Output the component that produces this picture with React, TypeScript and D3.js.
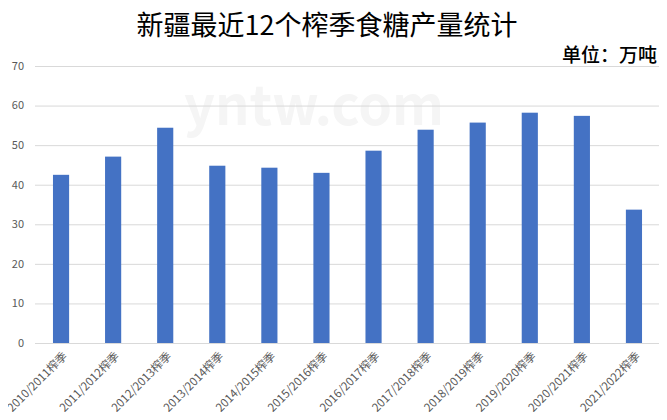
import React, { useEffect, useRef } from 'react';
import * as d3 from 'd3';

const seasons = [
  '2010/2011榨季', '2011/2012榨季', '2012/2013榨季', '2013/2014榨季',
  '2014/2015榨季', '2015/2016榨季', '2016/2017榨季', '2017/2018榨季',
  '2018/2019榨季', '2019/2020榨季', '2020/2021榨季', '2021/2022榨季'
];
const output = [42.5, 47.1, 54.4, 44.8, 44.3, 43.0, 48.6, 53.9, 55.7, 58.2, 57.4, 33.7];
const yTicks = [0, 10, 20, 30, 40, 50, 60, 70];

const title = '新疆最近12个榨季食糖产量统计';
const unit = '单位：万吨';

const width = 667;
const height = 420;
const margin = { top: 66, right: 7, bottom: 77, left: 35 };
const font = '"Noto Sans CJK SC", "Noto Sans", sans-serif';

const App: React.FC = () => {
  const svgRef = useRef<SVGSVGElement>(null);

  useEffect(() => {
    const svg = d3.select(svgRef.current);
    svg.selectAll('*').remove();

    const innerWidth = width - margin.left - margin.right;
    const innerHeight = height - margin.top - margin.bottom;

    const x = d3.scaleBand()
      .domain(seasons)
      .range([0, innerWidth])
      .paddingInner(0.69)
      .paddingOuter(0.345);

    const y = d3.scaleLinear()
      .domain([0, 70])
      .range([innerHeight, 0]);

    // watermark
    svg.append('text')
      .attr('x', 314)
      .attr('y', 125)
      .attr('text-anchor', 'middle')
      .style('font-family', font)
      .style('font-size', '54px')
      .style('font-weight', 'bold')
      .style('fill', '#f5f5f5')
      .text('yntw.com');

    svg.append('text')
      .attr('x', 327)
      .attr('y', 35)
      .attr('text-anchor', 'middle')
      .style('font-family', font)
      .style('font-size', '27px')
      .style('font-weight', 400)
      .style('fill', '#000')
      .text(title);

    svg.append('text')
      .attr('x', 657)
      .attr('y', 62)
      .attr('text-anchor', 'end')
      .style('font-family', font)
      .style('font-size', '19px')
      .style('font-weight', 500)
      .style('fill', '#000')
      .text(unit);

    const g = svg.append('g')
      .attr('transform', `translate(${margin.left},${margin.top})`);

    // gridlines
    g.append('g')
      .selectAll('line')
      .data(yTicks)
      .enter().append('line')
      .attr('x1', 0)
      .attr('x2', innerWidth)
      .attr('y1', d => y(d) + 0.5)
      .attr('y2', d => y(d) + 0.5)
      .style('stroke', '#d9d9d9')
      .style('stroke-width', 1);

    // y labels
    g.append('g')
      .selectAll('text')
      .data(yTicks)
      .enter().append('text')
      .attr('x', -11)
      .attr('y', d => y(d))
      .attr('dy', '0.35em')
      .attr('text-anchor', 'end')
      .style('font-family', font)
      .style('font-size', '11px')
      .style('fill', '#595959')
      .text(d => d);

    // bars
    g.append('g')
      .selectAll('rect')
      .data(output)
      .enter().append('rect')
      .attr('x', (d, i) => x(seasons[i])!)
      .attr('y', d => y(d))
      .attr('width', x.bandwidth())
      .attr('height', d => innerHeight - y(d))
      .style('fill', '#4472c4');

    // x labels
    g.append('g')
      .selectAll('text')
      .data(seasons)
      .enter().append('text')
      .attr('transform', d => `translate(${x(d)! + x.bandwidth() / 2 + 4},${innerHeight + 11}) rotate(-45)`)
      .attr('text-anchor', 'end')
      .attr('dy', '0.35em')
      .style('font-family', font)
      .style('font-size', '11.5px')
      .style('fill', '#595959')
      .text(d => d);
  }, []);

  return <svg ref={svgRef} width={width} height={height} style={{ display: 'block', margin: -8 }} />;
};

export default App;
